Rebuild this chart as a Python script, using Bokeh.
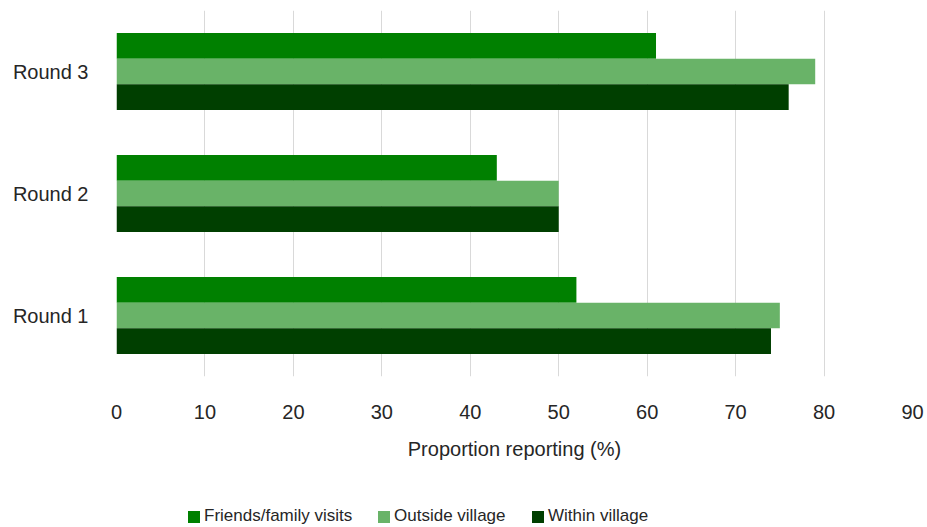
from bokeh.plotting import figure
from bokeh.layouts import column
from bokeh.models import ColumnDataSource, FactorRange, Range1d, Legend, LegendItem, FixedTicker
from bokeh.transform import dodge
from bokeh.embed import file_html
from bokeh.resources import INLINE

rounds = ["Round 1", "Round 2", "Round 3"]
friends_family = [52, 43, 61]
outside_village = [75, 50, 79]
within_village = [74, 50, 76]
x_ticks = [0, 10, 20, 30, 40, 50, 60, 70, 80, 90]

series_names = ["Friends/family visits", "Outside village", "Within village"]
colors = ["#008000", "#69b368", "#003f00"]

FONT = "Liberation Sans"
TEXT = "#262626"
AXIS_SIZE = "20px"
LEGEND_SIZE = "17px"

src = ColumnDataSource(dict(round=rounds, friends=friends_family,
                            outside=outside_village, within=within_village))

p = figure(width=927, height=490, output_backend="svg", toolbar_location=None,
           y_range=FactorRange(*rounds), x_range=Range1d(0, 90))
p.min_border_left = 116
p.min_border_right = 15
p.min_border_top = 10
p.min_border_bottom = 114
p.outline_line_color = None

bh = 0.21
p.hbar(y=dodge("round", bh, range=p.y_range), right="friends", left=0, height=bh,
       source=src, color=colors[0], line_color=None)
p.hbar(y=dodge("round", 0, range=p.y_range), right="outside", left=0, height=bh,
       source=src, color=colors[1], line_color=None)
p.hbar(y=dodge("round", -bh, range=p.y_range), right="within", left=0, height=bh,
       source=src, color=colors[2], line_color=None)

# vertical grid only
p.xgrid.grid_line_color = "#d9d9d9"
p.ygrid.grid_line_color = None
p.xaxis.ticker = FixedTicker(ticks=x_ticks)

# x axis
p.xaxis.axis_line_color = None
p.xaxis.major_tick_line_color = None
p.xaxis.minor_tick_line_color = None
p.xaxis.major_label_standoff = 22
p.xaxis.major_label_text_font = FONT
p.xaxis.major_label_text_font_size = AXIS_SIZE
p.xaxis.major_label_text_color = TEXT
p.xaxis.axis_label = "Proportion reporting (%)"
p.xaxis.axis_label_standoff = 16
p.xaxis.axis_label_text_font = FONT
p.xaxis.axis_label_text_font_size = AXIS_SIZE
p.xaxis.axis_label_text_font_style = "normal"
p.xaxis.axis_label_text_color = TEXT

# y axis
p.yaxis.axis_line_color = None
p.yaxis.major_tick_line_color = None
p.yaxis.minor_tick_line_color = None
p.yaxis.major_label_standoff = 22
p.yaxis.major_label_text_font = FONT
p.yaxis.major_label_text_font_size = AXIS_SIZE
p.yaxis.major_label_text_color = TEXT

# legend strip underneath the chart
lf = figure(width=927, height=37, output_backend="svg", toolbar_location=None,
            x_range=Range1d(0, 1), y_range=Range1d(0, 1))
lf.min_border = 0
lf.outline_line_color = None
lf.axis.visible = False
lf.grid.visible = False

# swatch renderers sit outside the visible range; only their legend glyphs show
legend_x = [70, 260, 414]
for name, c, lx in zip(series_names, colors, legend_x):
    r = lf.quad(left=[-3], right=[-2], bottom=[-3], top=[-2], color=c, line_color=None)
    lg = Legend(items=[LegendItem(label=name, renderers=[r])],
                location=(lx, 1), orientation="horizontal",
                label_text_font=FONT, label_text_font_size=LEGEND_SIZE,
                label_text_color=TEXT, glyph_width=15, glyph_height=15,
                label_standoff=3, padding=0, margin=0, spacing=0,
                border_line_color=None, background_fill_alpha=0,
                label_height=18)
    lf.add_layout(lg, "center")

open("out.html", "w").write(file_html(column(p, lf, spacing=0), INLINE))
